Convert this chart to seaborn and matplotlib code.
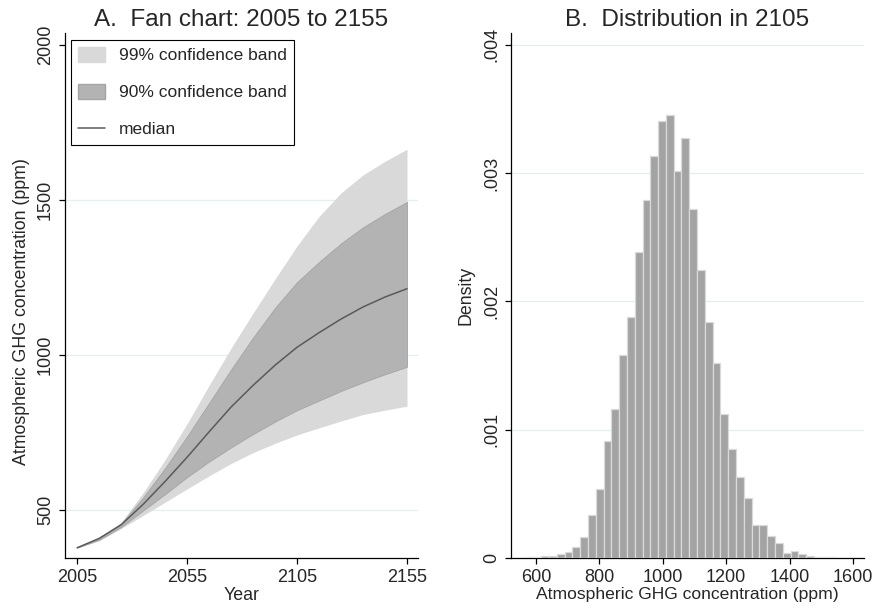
import numpy as np
import pandas as pd
import seaborn as sns
import matplotlib.pyplot as plt
from matplotlib.patches import Patch
from matplotlib.lines import Line2D

# ---------------- data
years = [2005, 2015, 2025, 2035, 2045, 2055, 2065, 2075, 2085, 2095,
         2105, 2115, 2125, 2135, 2145, 2155]
p99_hi = [378, 412, 460, 555, 662, 778, 902, 1022, 1135, 1245,
          1352, 1447, 1523, 1581, 1625, 1664]
p90_hi = [378, 410, 455, 540, 635, 737, 845, 953, 1056, 1152,
          1235, 1300, 1360, 1412, 1455, 1494]
median = [378, 408, 452, 518, 592, 670, 752, 832, 902, 967,
          1025, 1072, 1116, 1155, 1187, 1214]
p90_lo = [378, 404, 445, 498, 551, 606, 656, 702, 745, 785,
          822, 853, 884, 912, 938, 962]
p99_lo = [378, 400, 440, 482, 525, 568, 610, 650, 685, 715,
          742, 765, 787, 808, 822, 835]

# histogram of 2105 values: 40 bins from 567 to 1551 ppm
bin_lo, bin_hi = 567, 1551
density = [0.000005, 0.000008, 0.000013, 0.000018, 0.000029, 0.000047,
           0.000083, 0.000161, 0.000337, 0.000540, 0.000913, 0.001162,
           0.001585, 0.001878, 0.002384, 0.002791, 0.003131, 0.003409,
           0.003455, 0.003017, 0.003271, 0.002724, 0.002247, 0.001842,
           0.001520, 0.001123, 0.000848, 0.000630, 0.000467, 0.000257,
           0.000257, 0.000174, 0.000117, 0.000039, 0.000052, 0.000031,
           0.000013, 0.000010, 0.000005, 0.000008]

fan = pd.DataFrame({"year": years, "median": median})
edges = np.linspace(bin_lo, bin_hi, len(density) + 1)
hist = pd.DataFrame({"ppm": (edges[:-1] + edges[1:]) / 2, "dens": density})

# ---------------- style
sns.set_style("white")
plt.rcParams["font.family"] = ["Liberation Sans", "DejaVu Sans"]
light = "#d9d9d9"
dark = "#b3b3b3"
grid_c = "#e6eff0"

fig = plt.figure(figsize=(8.74, 6.08), dpi=100)
ax1 = fig.add_axes([65 / 874, 50 / 608, 353 / 874, 525 / 608])
ax2 = fig.add_axes([511 / 874, 50 / 608, 353 / 874, 525 / 608])


def style_axis(ax):
    for s in ["top", "right"]:
        ax.spines[s].set_visible(False)
    for s in ["left", "bottom"]:
        ax.spines[s].set_color("black")
        ax.spines[s].set_linewidth(0.9)
    ax.tick_params(axis="both", direction="out", length=4, width=0.9,
                   color="black", labelsize=13, left=True, bottom=True)
    ax.tick_params(axis="x", pad=4)
    ax.tick_params(axis="y", pad=4)
    for lab in ax.get_yticklabels():
        lab.set_rotation(90)
        lab.set_va("center")


# ---------------- A. fan chart
ax1.fill_between(years, p99_lo, p99_hi, color=light, lw=0, zorder=2)
ax1.fill_between(years, p90_lo, p90_hi, color=dark, edgecolor="#a4a4a4",
                 lw=0.6, zorder=3)
sns.lineplot(data=fan, x="year", y="median", ax=ax1, color="#5a5a5a",
             lw=1.1, zorder=4)
for v in [500, 1000, 1500]:
    ax1.axhline(v, color=grid_c, lw=0.9, zorder=1)
ax1.set_xlim(1999.5, 2160)
ax1.set_ylim(345, 2039)
ax1.set_xticks([2005, 2055, 2105, 2155])
ax1.set_yticks([500, 1000, 1500, 2000])
ax1.set_xlabel("Year", fontsize=12.8, labelpad=1)
ax1.set_ylabel("Atmospheric GHG concentration (ppm)", fontsize=12.8)
ax1.yaxis.set_label_coords(-0.1, 0.47)
ax1.set_title("A.  Fan chart: 2005 to 2155", fontsize=17.5, pad=5)
style_axis(ax1)

handles = [Patch(facecolor=light, edgecolor=light),
           Patch(facecolor=dark, edgecolor="#a4a4a4"),
           Line2D([0], [0], color="#5a5a5a", lw=1.1)]
labels = ["99% confidence band", "90% confidence band", "median"]
leg = ax1.legend(handles, labels, loc="upper left",
                 bbox_to_anchor=(0.017, 0.987), fontsize=12.5,
                 frameon=True, fancybox=False, framealpha=1,
                 edgecolor="black", handlelength=1.55, handleheight=0.9,
                 labelspacing=1.2, borderpad=0.42, handletextpad=0.8,
                 borderaxespad=0)
leg.get_frame().set_linewidth(0.8)

# ---------------- B. histogram
sns.histplot(data=hist, x="ppm", weights="dens", bins=edges.tolist(),
             stat="count", ax=ax2, color="#a3a3a3", edgecolor="#dadada",
             linewidth=0.9, alpha=1, zorder=3)
for v in [0.001, 0.002, 0.003, 0.004]:
    ax2.axhline(v, color=grid_c, lw=0.9, zorder=1)
ax2.set_xlim(521, 1635)
ax2.set_ylim(0, 0.004093)
ax2.set_xticks([600, 800, 1000, 1200, 1400, 1600])
ax2.set_yticks([0, 0.001, 0.002, 0.003, 0.004])
ax2.set_yticklabels(["0", ".001", ".002", ".003", ".004"])
ax2.set_xlabel("Atmospheric GHG concentration (ppm)", fontsize=12.6,
               labelpad=1)
ax2.set_ylabel("Density", fontsize=12.8, labelpad=6)
ax2.set_title("B.  Distribution in 2105", fontsize=17.5, pad=5)
style_axis(ax2)

fig.savefig("out.png", dpi=100)
